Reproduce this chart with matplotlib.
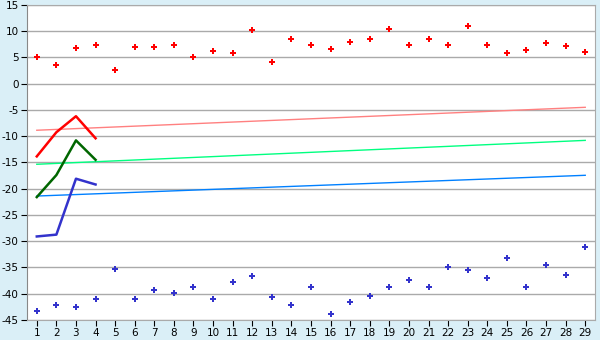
import matplotlib
matplotlib.use("Agg")
from matplotlib import pyplot as plt

plt.rcParams["axes.unicode_minus"] = False

days = list(range(1, 30))

# scattered points
upper_pts = [5.0, 3.5, 6.75, 7.3, 2.55, 6.9, 6.9, 7.3, 5.0, 6.2, 5.8, 10.2, 4.1, 8.6,
             7.3, 6.55, 7.9, 8.45, 10.4, 7.3, 8.45, 7.3, 10.95, 7.3, 5.8, 6.4, 7.7, 7.1, 6.0]
lower_pts = [-43.35, -42.2, -42.6, -41.06, -35.35, -41.06, -39.35, -39.9, -38.8, -41.06,
             -37.8, -36.7, -40.7, -42.2, -38.8, -43.9, -41.6, -40.5, -38.8, -37.45,
             -38.8, -35.0, -35.5, -37.06, -33.25, -38.8, -34.6, -36.5, -31.15]

# short lines, first four days
short_x = [1, 2, 3, 4]
red_line = [-13.85, -9.25, -6.2, -10.4]
green_line = [-21.6, -17.4, -10.8, -14.5]
blue_line = [-29.1, -28.75, -18.1, -19.2]

# trend lines (value at day 1 and day 29)
trend_x = [1, 29]
pink_trend = [-8.87, -4.5]
lgreen_trend = [-15.35, -10.8]
lblue_trend = [-21.4, -17.45]

bg = "#DAEFF7"
fig = plt.figure(figsize=(6, 3.4), dpi=100, facecolor=bg)
ax = fig.add_axes([0.045, 0.059, 0.9467, 0.9265])
ax.set_facecolor("white")

ax.plot(trend_x, pink_trend, color="#FF8080", lw=1)
ax.plot(trend_x, lgreen_trend, color="#00FF80", lw=1)
ax.plot(trend_x, lblue_trend, color="#0080FF", lw=1)

ax.plot(short_x, red_line, color="#FF0000", lw=1.8)
ax.plot(short_x, green_line, color="#006600", lw=1.8)
ax.plot(short_x, blue_line, color="#3333CC", lw=1.8)

ax.plot(days, upper_pts, ls="none", marker="P", ms=5, color="#FF0000", mew=0)
ax.plot(days, lower_pts, ls="none", marker="P", ms=5, color="#3333CC", mew=0)

ax.set_xlim(0.5, 29.5)
ax.set_ylim(-45, 15)
ax.set_xticks(days)
ax.set_yticks(range(-45, 16, 5))
ax.grid(axis="y", color="#AAAAAA", lw=1)
ax.set_axisbelow(True)
ax.tick_params(labelsize=7.5, length=4, color="black", pad=2)
for s in ["top", "right", "bottom"]:
    ax.spines[s].set_color("#AAAAAA")
ax.spines["left"].set_color("#888888")

fig.savefig("out.png", dpi=100, facecolor=bg)
